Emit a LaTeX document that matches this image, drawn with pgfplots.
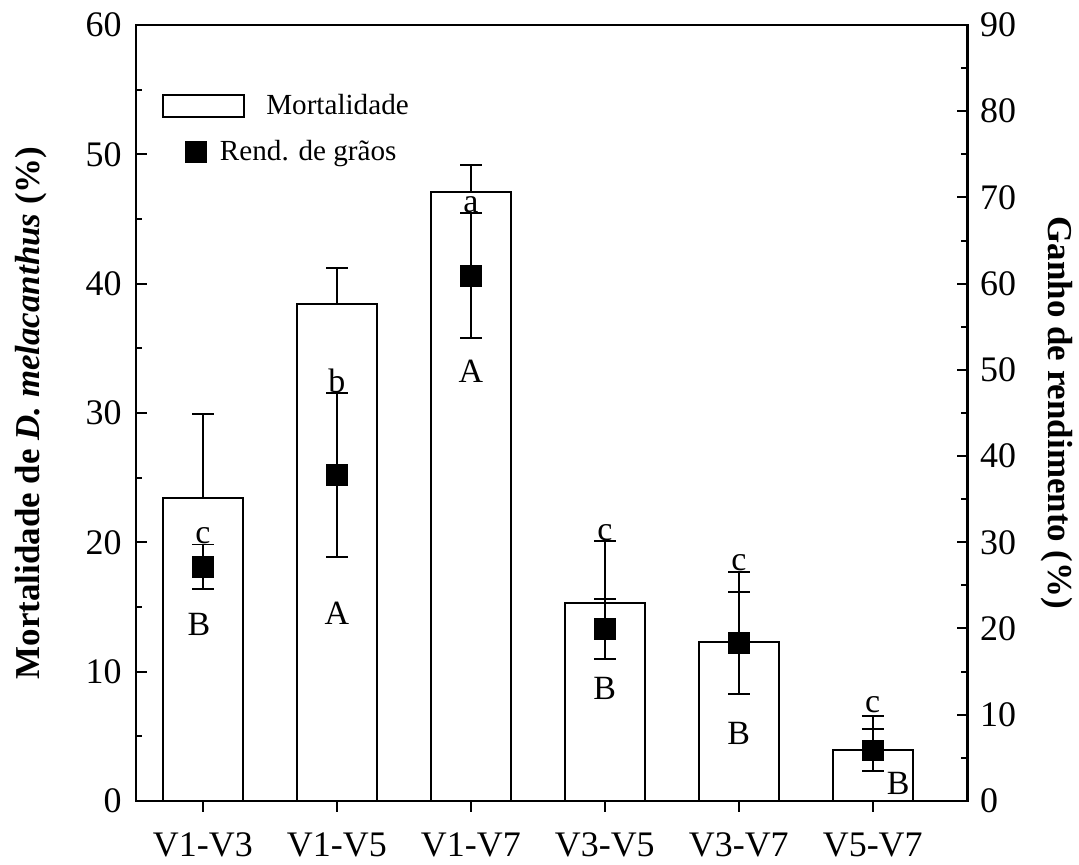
\documentclass[border=0pt]{standalone}
\usepackage{fontspec}
\setmainfont{Liberation Serif}
\usepackage{pgfplots}
\pgfplotsset{compat=1.18}
\usepackage{pgfplotstable}

\pgfplotstableread{
x y e
0 23.41 6.49
1 38.39 2.78
2 47.11 2.08
3 15.28 4.79
4 12.27 5.41
5 3.91 2.65
}\mort
\pgfplotstableread{
x y e
0 27.16 2.58
1 37.78 9.53
2 60.94 7.21
3 19.95 3.51
4 18.33 5.94
5 5.86 2.43
}\rend

\begin{document}
\begin{tikzpicture}
\path (-68bp,-31.85bp) rectangle (471.5bp,401.15bp);
\pgfplotsset{
  common/.style={
    at={(0,0)}, anchor=south west, scale only axis,
    width=416.65bp, height=388.65bp,
    xmin=-0.501, xmax=5.708,
    ymin=0,
    /pgf/number format/assume math mode=true,
    tick label style={font=\fontsize{18bp}{21bp}\selectfont},
    label style={font=\fontsize{17.5bp}{21bp}\selectfont\bfseries},
    axis line style={line width=1.25bp},
    every tick/.style={line width=1bp, black},
    major tick length=5.4bp, minor tick length=3.2bp,
    clip=false,
  }
}
\begin{axis}[common,
  ybar, bar width=0.6,
  ymax=60, ytick={0,10,...,60}, minor y tick num=1,
  xtick={0,...,5}, xticklabels={V1-V3,V1-V5,V1-V7,V3-V5,V3-V7,V5-V7},
  xtick pos=bottom, ytick pos=left,
  xtick align=outside, ytick align=inside,
  xticklabel style={yshift=-7bp},
  yticklabel style={xshift=-3.6bp},
  ylabel={Mortalidade de \textit{D. melacanthus} (\%)},
  ylabel style={at={(axis description cs:-0.116,0.5)}, anchor=base},
  legend style={at={(axis description cs:0.0308,0.896)}, anchor=west, draw=none, fill=none,
    inner sep=0pt, column sep=0pt, nodes={inner xsep=10.85bp},
    font=\fontsize{14.6bp}{18bp}\selectfont},
]
\addplot[fill=white, draw=black, line width=1bp,
  legend image code/.code={\draw[line width=1bp] (0bp,-5.5bp) rectangle (40.5bp,5.5bp);},
  error bars/.cd, y dir=plus, y explicit,
  error bar style={line width=1bp, black},
  error mark options={rotate=90, mark size=5.4bp, line width=1bp, black}]
  table[x=x, y=y, y error=e] {\mort};
\addlegendentry{Mortalidade}
\end{axis}

\begin{axis}[common,
  ymax=90, ytick={0,10,...,90}, minor y tick num=1,
  axis y line*=right, axis x line=none,
  ytick align=inside,
  yticklabel style={xshift=2.7bp},
  ylabel={Ganho de rendimento (\%)},
  ylabel style={at={(axis description cs:1.0968,0.5)}, anchor=base, rotate=180},
  legend style={at={(axis description cs:0.059,0.837)}, anchor=west, draw=none, fill=none,
    inner sep=0pt, column sep=0pt, nodes={inner xsep=6.9bp},
    font=\fontsize{14.6bp}{18bp}\selectfont},
]
\addplot[only marks, mark=square*, mark size=5.25bp, black,
  error bars/.cd, y dir=both, y explicit,
  error bar style={line width=1bp, black},
  error mark options={rotate=90, mark size=5.4bp, line width=1bp, black}]
  table[x=x, y=y, y error=e] {\rend};
\addlegendentry{Rend. de grãos}
\begin{scope}[every node/.style={font=\fontsize{17bp}{20bp}\selectfont, anchor=base, inner sep=0pt}]
\node at (axis cs:0,29.9) {c};
\node at (axis cs:1,47.4) {b};
\node at (axis cs:2,68.2) {a};
\node at (axis cs:3,30.25) {c};
\node at (axis cs:4,26.7) {c};
\node at (axis cs:5,10.3) {c};
\node at (axis cs:-0.03,19.2) {B};
\node at (axis cs:1,20.5) {A};
\node at (axis cs:2,48.5) {A};
\node at (axis cs:3,11.8) {B};
\node at (axis cs:4,6.6) {B};
\node at (axis cs:5.19,0.7) {B};
\end{scope}
\end{axis}
\end{tikzpicture}
\end{document}
